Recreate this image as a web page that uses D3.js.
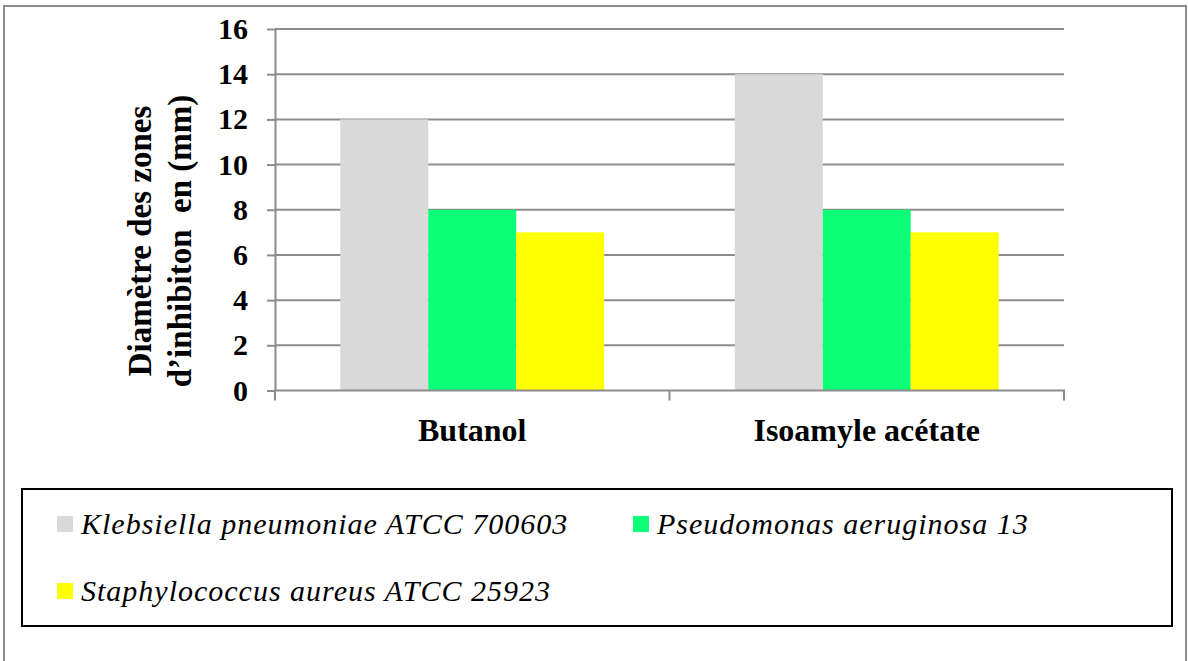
<!DOCTYPE html>
<html>
<head>
<meta charset="utf-8">
<script src="https://cdn.jsdelivr.net/npm/d3@7"></script>
<style>
  body { margin: 0; background: #fff; }
  text { font-family: "Liberation Serif", "Times New Roman", serif; }
</style>
</head>
<body>
<svg width="1188" height="661"></svg>
<script>
var categories = ["Butanol", "Isoamyle acétate"];
var seriesNames = ["Klebsiella pneumoniae ATCC 700603", "Pseudomonas aeruginosa 13", "Staphylococcus aureus ATCC 25923"];
var klebsiella = [12, 14];
var pseudomonas = [8, 8];
var staphylococcus = [7, 7];
var yTicks = [0, 2, 4, 6, 8, 10, 12, 14, 16];
var colors = ["#d9d9d9", "#0dff77", "#ffff00"];

var series = [klebsiella, pseudomonas, staphylococcus];

var svg = d3.select("svg");

// outer frame
svg.append("rect")
  .attr("x", 4).attr("y", 6).attr("width", 1182).attr("height", 660)
  .attr("fill", "none").attr("stroke", "#8c8c8c").attr("stroke-width", 2);

var plotLeft = 275, plotRight = 1064, plotTop = 29, plotBottom = 390.5;

var y = d3.scaleLinear().domain([0, 16]).range([plotBottom, plotTop]);
var x0 = d3.scaleBand().domain(categories).range([plotLeft, plotRight])
  .paddingInner(0.331).paddingOuter(0.1655);
var x1 = d3.scaleBand().domain(d3.range(series.length)).range([0, x0.bandwidth()]);

// gridlines
svg.append("g").selectAll("line").data(yTicks.filter(function(d){return d > 0;}))
  .join("line")
  .attr("x1", plotLeft).attr("x2", plotRight)
  .attr("y1", function(d){return y(d);}).attr("y2", function(d){return y(d);})
  .attr("stroke", "#8c8c8c").attr("stroke-width", 2);

// bars
var groups = svg.append("g").selectAll("g").data(categories).join("g")
  .attr("transform", function(d){return "translate(" + x0(d) + ",0)";});
groups.selectAll("rect")
  .data(function(d, i){return series.map(function(s, k){return {k: k, v: s[i]};});})
  .join("rect")
  .attr("x", function(d){return x1(d.k);})
  .attr("width", x1.bandwidth())
  .attr("y", function(d){return y(d.v);})
  .attr("height", function(d){return plotBottom - y(d.v);})
  .attr("fill", function(d){return colors[d.k];});

// y axis
var yAxis = svg.append("g").attr("transform", "translate(" + plotLeft + ",0)")
  .call(d3.axisLeft(y).tickValues(yTicks).tickSize(8).tickPadding(19).tickSizeOuter(0));
yAxis.select(".domain").attr("stroke", "#8c8c8c").attr("stroke-width", 2);
yAxis.selectAll(".tick line").attr("stroke", "#8c8c8c").attr("stroke-width", 2);
yAxis.selectAll(".tick text")
  .style("font-family", "'Liberation Serif', serif")
  .style("font-size", "30px").style("font-weight", "bold").attr("fill", "#000");

// x axis with boundary ticks
var xAxisG = svg.append("g");
xAxisG.append("line")
  .attr("x1", plotLeft - 1).attr("x2", plotRight + 1).attr("y1", plotBottom).attr("y2", plotBottom)
  .attr("stroke", "#8c8c8c").attr("stroke-width", 2);
var bounds = [plotLeft, (plotLeft + plotRight) / 2, plotRight];
xAxisG.selectAll("line.b").data(bounds).join("line").attr("class", "b")
  .attr("x1", function(d){return d;}).attr("x2", function(d){return d;})
  .attr("y1", plotBottom).attr("y2", plotBottom + 10)
  .attr("stroke", "#8c8c8c").attr("stroke-width", 2);
xAxisG.selectAll("text").data(categories).join("text")
  .attr("x", function(d){return x0(d) + x0.bandwidth() / 2;})
  .attr("y", 441)
  .attr("text-anchor", "middle")
  .style("font-size", "32px").style("font-weight", "bold")
  .text(function(d){return d;});

// y label
var yLabel = svg.append("text")
  .attr("transform", "translate(0,241) rotate(-90)")
  .attr("text-anchor", "middle")
  .style("font-size", "33px").style("font-weight", "bold");
yLabel.append("tspan").attr("x", 0).attr("y", 151).text("Diamètre des zones");
yLabel.append("tspan").attr("x", 0).attr("y", 191).attr("xml:space", "preserve").text("d\u2019inhibiton  en (mm)");

// legend
svg.append("rect")
  .attr("x", 22).attr("y", 489).attr("width", 1150).attr("height", 137)
  .attr("fill", "none").attr("stroke", "#000").attr("stroke-width", 2);
var legendPos = [[57, 516], [633, 516], [57, 583]];
var legend = svg.append("g").selectAll("g").data(seriesNames).join("g")
  .attr("transform", function(d, i){return "translate(" + legendPos[i][0] + "," + legendPos[i][1] + ")";});
legend.append("rect")
  .attr("width", 16).attr("height", 16)
  .attr("fill", function(d, i){return colors[i];});
legend.append("text")
  .attr("x", 24).attr("y", 18)
  .style("font-size", "30px").style("font-style", "italic")
  .style("letter-spacing", "1px")
  .text(function(d){return d;});
</script>
</body>
</html>
